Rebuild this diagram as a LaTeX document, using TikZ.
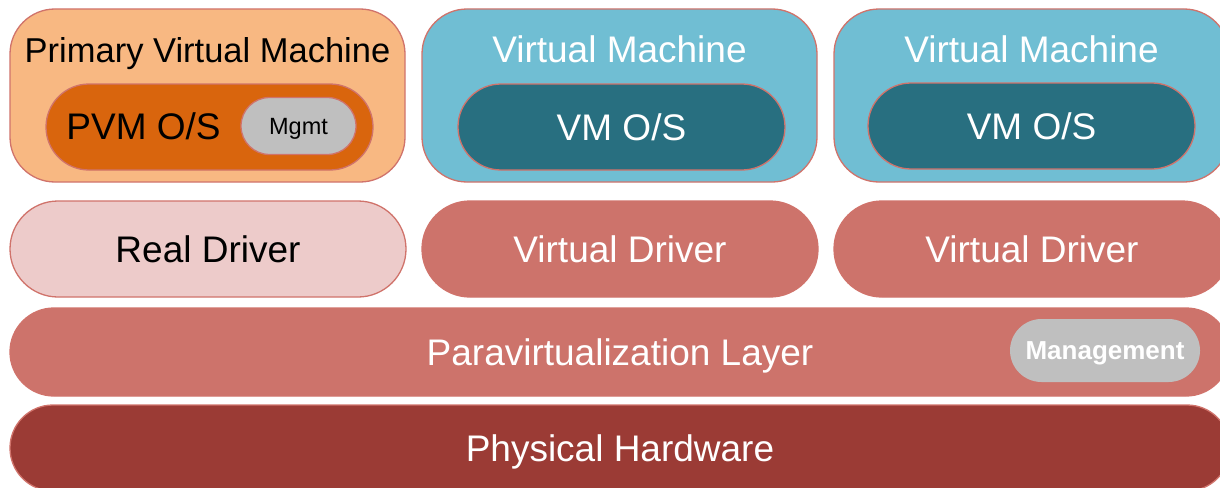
\documentclass[tikz,border=0pt]{standalone}
\usepackage{fontspec}
\setmainfont{Liberation Sans}
\usepackage{xcolor}
\definecolor{pvmfill}{HTML}{F8B882}
\definecolor{osorange}{HTML}{D9650D}
\definecolor{mgmtgray}{HTML}{BFBFBF}
\definecolor{vmblue}{HTML}{70BED3}
\definecolor{vmosteal}{HTML}{286F80}
\definecolor{realpink}{HTML}{EDCBCA}
\definecolor{drvred}{HTML}{CD736B}
\definecolor{hwred}{HTML}{9B3B35}
\definecolor{edgered}{HTML}{D0736B}
\tikzset{
box/.style={draw=edgered, line width=1.3pt, inner sep=0pt, shape=rectangle},
big/.style={font=\fontsize{37}{44}\selectfont, text height=26.5pt, text depth=0pt},
}
\begin{document}
\begin{tikzpicture}[x=1pt, y=-1pt]
\clip (0,0) rectangle (1220,487);
\fill[white] (0,0) rectangle (1220,487);

\node[box, fill=pvmfill, minimum width=395, minimum height=173, rounded corners=45] (pvm) at (207.5,95.5) {};
\node[box, fill=vmblue, minimum width=395, minimum height=173, rounded corners=45] (vma) at (619.5,95.5) {};
\node[box, fill=vmblue, minimum width=395, minimum height=173, rounded corners=45] (vmb) at (1031.5,95.5) {};

\node[inner sep=0pt, font=\fontsize{34.5}{40}\selectfont, text height=24.7pt, text depth=0pt] (pvmtitle) at (207.5,50) {Primary Virtual Machine};
\node[inner sep=0pt, big, text=white] (vmatitle) at (619.5,49) {Virtual Machine};
\node[inner sep=0pt, big, text=white] (vmbtitle) at (1031.5,49) {Virtual Machine};

\node[box, fill=osorange, minimum width=327, minimum height=86, rounded corners=43] (pvmos) at (209.5,127) {};
\node[inner sep=0pt, big] (pvmostext) at (143.5,126) {PVM O/S};
\node[box, fill=mgmtgray, minimum width=115, minimum height=57, rounded corners=28.5, font=\fontsize{23.5}{28}\selectfont, text height=16.8pt, text depth=0pt] (mgmt) at (298.5,126) {Mgmt};
\node[box, fill=vmosteal, minimum width=327, minimum height=86, rounded corners=43, big, text=white] (vmaos) at (621.5,127) {VM O/S};
\node[box, fill=vmosteal, minimum width=327, minimum height=86, rounded corners=43, big, text=white] (vmbos) at (1031.5,126) {VM O/S};

\node[box, fill=realpink, minimum width=396, minimum height=96, rounded corners=48, big] (realdrv) at (208,249) {Real Driver};
\node[box, fill=drvred, minimum width=396, minimum height=96, rounded corners=48, big, text=white] (virtdrva) at (620,249) {Virtual Driver};
\node[box, fill=drvred, minimum width=396, minimum height=96, rounded corners=48, big, text=white] (virtdrvb) at (1032,249) {Virtual Driver};

\node[box, fill=drvred, minimum width=1220, minimum height=88, rounded corners=44, big, text=white] (para) at (620,352) {Paravirtualization Layer};
\node[inner sep=0pt, fill=mgmtgray, minimum width=190, minimum height=63, rounded corners=31.5, text=white, font=\fontsize{26}{31}\selectfont\bfseries, text height=18.6pt, text depth=0pt] (mgmtlayer) at (1105,350.5) {Management};

\node[box, fill=hwred, minimum width=1220, minimum height=86, rounded corners=43, big, text=white] (hw) at (620,448) {Physical Hardware};
\end{tikzpicture}
\end{document}
